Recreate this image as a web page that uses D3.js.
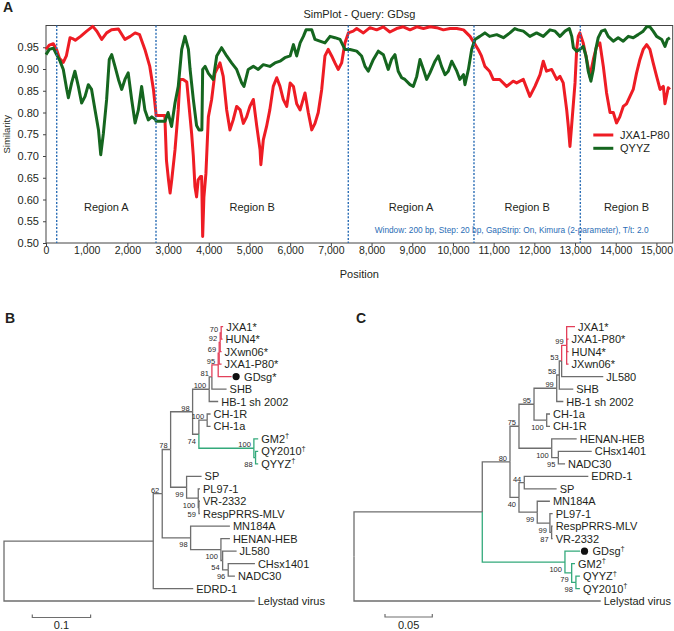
<!DOCTYPE html>
<html><head><meta charset="utf-8">
<script src="https://cdn.jsdelivr.net/npm/d3@7"></script>
<style>
html,body{margin:0;padding:0;background:#fff;}
svg{display:block;font-family:"Liberation Sans",Arial,sans-serif;}
</style></head>
<body>
<svg id="fig" width="674" height="631"></svg>
<script>
// ---------- Panel A data ----------
const xTicks = [0,1000,2000,3000,4000,5000,6000,7000,8000,9000,10000,11000,12000,13000,14000,15000];
const yTicks = [0.50,0.55,0.60,0.65,0.70,0.75,0.80,0.85,0.90,0.95];
const seriesNames = ["JXA1-P80","QYYZ"];
const breakpoints = [263, 2703, 7428, 10517, 13130];
const regionNames = ["Region A","Region B","Region A","Region B","Region B"];
const seqEnd = 15400;
const noteText = "Window: 200 bp, Step: 20 bp, GapStrip: On, Kimura (2-parameter), T/t: 2.0";

const jxa1P80 = [[0,0.945],[80,0.955],[180,0.958],[260,0.945],[330,0.925],[425,0.915],[500,0.93],[590,0.972],[650,0.97],[720,0.966],[850,0.975],[1000,0.987],[1150,0.998],[1250,0.987],[1370,0.968],[1490,0.983],[1610,0.99],[1780,0.992],[1860,0.98],[1940,0.968],[2070,0.975],[2190,0.983],[2300,0.979],[2430,0.945],[2550,0.906],[2640,0.853],[2700,0.80],[2705,0.793],[2920,0.793],[2960,0.69],[3010,0.645],[3050,0.615],[3090,0.645],[3170,0.714],[3250,0.806],[3290,0.876],[3370,0.876],[3460,0.87],[3540,0.79],[3580,0.75],[3620,0.70],[3660,0.63],[3700,0.606],[3740,0.645],[3800,0.653],[3825,0.653],[3850,0.515],[3880,0.605],[3930,0.66],[3990,0.79],[4070,0.83],[4150,0.89],[4275,0.914],[4355,0.883],[4440,0.806],[4520,0.76],[4600,0.783],[4685,0.814],[4770,0.806],[4850,0.775],[4930,0.79],[5010,0.814],[5095,0.83],[5180,0.768],[5260,0.714],[5280,0.68],[5340,0.737],[5420,0.768],[5500,0.806],[5585,0.86],[5670,0.88],[5750,0.86],[5830,0.83],[5915,0.814],[6000,0.868],[6080,0.86],[6160,0.82],[6245,0.806],[6365,0.845],[6445,0.80],[6530,0.76],[6610,0.775],[6690,0.80],[6775,0.853],[6855,0.93],[6935,0.945],[7020,0.93],[7100,0.914],[7180,0.899],[7265,0.914],[7345,0.96],[7430,0.983],[7550,0.987],[7635,0.993],[7800,0.983],[7960,0.995],[8125,0.99],[8290,0.997],[8450,0.985],[8615,0.993],[8780,0.997],[8945,0.99],[9110,0.997],[9275,0.993],[9440,0.997],[9600,0.995],[9765,0.99],[9930,0.993],[10095,0.993],[10260,0.99],[10420,0.975],[10520,0.96],[10620,0.945],[10700,0.93],[10785,0.906],[10900,0.895],[10990,0.876],[11150,0.876],[11320,0.86],[11480,0.872],[11565,0.868],[11730,0.876],[11890,0.837],[12015,0.86],[12140,0.887],[12220,0.918],[12300,0.895],[12425,0.899],[12550,0.876],[12630,0.883],[12710,0.868],[12795,0.806],[12835,0.768],[12875,0.722],[12915,0.768],[13000,0.868],[13040,0.945],[13080,0.975],[13120,0.983],[13200,0.96],[13285,0.922],[13365,0.883],[13450,0.922],[13530,0.952],[13610,0.96],[13695,0.906],[13775,0.845],[13860,0.80],[13940,0.80],[14020,0.776],[14100,0.79],[14185,0.814],[14265,0.82],[14350,0.837],[14430,0.853],[14510,0.89],[14595,0.922],[14675,0.945],[14760,0.956],[14840,0.945],[14920,0.914],[15005,0.883],[15090,0.853],[15170,0.86],[15210,0.82],[15290,0.857],[15330,0.853]];

const qyyz = [[0,0.933],[80,0.945],[180,0.948],[260,0.933],[345,0.918],[425,0.899],[510,0.853],[550,0.834],[630,0.868],[710,0.895],[795,0.86],[875,0.822],[960,0.837],[1040,0.864],[1120,0.853],[1205,0.806],[1290,0.76],[1345,0.703],[1410,0.752],[1490,0.83],[1555,0.922],[1615,0.933],[1695,0.906],[1780,0.876],[1860,0.853],[1940,0.876],[2020,0.891],[2105,0.83],[2190,0.776],[2270,0.806],[2350,0.86],[2430,0.806],[2515,0.783],[2600,0.79],[2700,0.783],[2705,0.78],[2925,0.78],[3000,0.80],[3085,0.768],[3170,0.822],[3250,0.86],[3335,0.945],[3415,0.975],[3500,0.945],[3540,0.90],[3620,0.83],[3700,0.77],[3760,0.76],[3830,0.76],[3850,0.899],[3910,0.906],[3990,0.89],[4110,0.876],[4195,0.93],[4315,0.949],[4440,0.93],[4560,0.914],[4685,0.899],[4810,0.868],[4865,0.86],[4970,0.899],[5095,0.906],[5215,0.899],[5340,0.91],[5500,0.906],[5625,0.914],[5750,0.918],[5870,0.926],[6000,0.93],[6080,0.956],[6160,0.93],[6245,0.96],[6325,0.975],[6390,0.99],[6530,0.99],[6610,0.968],[6730,0.964],[6855,0.96],[6980,0.975],[7100,0.972],[7225,0.968],[7345,0.945],[7470,0.945],[7635,0.941],[7755,0.93],[7840,0.906],[7920,0.895],[8045,0.922],[8165,0.941],[8290,0.933],[8410,0.899],[8490,0.922],[8575,0.933],[8655,0.895],[8740,0.88],[8820,0.876],[8945,0.864],[9025,0.86],[9110,0.883],[9190,0.922],[9275,0.899],[9355,0.876],[9435,0.891],[9560,0.918],[9640,0.93],[9720,0.906],[9805,0.887],[9885,0.895],[9970,0.918],[10095,0.895],[10170,0.876],[10260,0.887],[10295,0.864],[10380,0.899],[10460,0.945],[10540,0.968],[10660,0.975],[10785,0.983],[10900,0.975],[11075,0.979],[11240,0.972],[11400,0.983],[11520,0.993],[11600,0.99],[11730,0.987],[11890,0.975],[12055,0.983],[12220,0.975],[12385,0.99],[12510,0.987],[12630,0.975],[12755,0.987],[12860,0.993],[12920,0.975],[12960,0.949],[13040,0.941],[13120,0.945],[13200,0.952],[13270,0.93],[13325,0.895],[13390,0.872],[13450,0.899],[13510,0.945],[13570,0.972],[13650,0.987],[13735,0.99],[13815,0.975],[13940,0.964],[14060,0.972],[14185,0.964],[14310,0.975],[14430,0.972],[14550,0.979],[14675,0.987],[14760,0.997],[14840,0.997],[14920,0.987],[15005,0.975],[15130,0.968],[15210,0.952],[15270,0.968],[15330,0.972]];

// ---------- Panel B / C tree data (branch lengths, bootstrap) ----------
const L = (name, len, extra) => Object.assign({name, len}, extra || {});
const I = (len, boot, children, extra) => Object.assign({len, boot, children}, extra || {});

const treeB = I(0, null, [
  I(0.256, null, [
    I(0.0154, 62, [
      I(0.0144, 78, [
        I(0.0377, 98, [
          I(0.0285, 100, [
            I(0.0046, 81, [
              I(0.0108, 95, [
                I(0.0017, 69, [
                  I(0.0017, 92, [
                    I(0.0017, 70, [L("JXA1*", 0.0034), L("HUN4*", 0.0024)]),
                    L("JXwn06*", 0.0024)]),
                  L("JXA1-P80*", 0.0041)]),
                L("GDsg*", 0.023, {dot: true})], {clade: "red"}),
              L("SHB", 0.0252)]),
            L("HB-1 sh 2002", 0.0154)]),
          I(0.0108, 74, [
            I(0.0142, 100, [L("CH-1R", 0.0058), L("CH-1a", 0.0058)]),
            I(0.0943, 100, [
              L("GM2†", 0.0074),
              I(0.0029, 88, [L("QY2010†", 0.0045), L("QYYZ†", 0.0045)])], {clade: "green", up: true})])]),
        I(0.0274, 99, [
          L("SP", 0.0257),
          I(0.02, 100, [
            L("PL97-1", 0.003),
            I(0.0012, 59, [L("VR-2332", 0.0017), L("RespPRRS-MLV", 0.0017)])])])]),
      I(0.0487, 98, [
        L("MN184A", 0.0674),
        I(0.052, 100, [
          L("HENAN-HEB", 0.0154),
          I(0.0029, 54, [
            L("JL580", 0.024),
            I(0.0096, 96, [L("CHsx1401", 0.0458), L("NADC30", 0.0115)])])])])]),
    L("EDRD-1", 0.0686)]),
  L("Lelystad virus", 0.43)]);

const treeC = I(0, null, [
  I(0.1356, null, [
    I(0.0293, 80, [
      I(0.0095, 75, [
        I(0.0159, 95, [
          I(0.024, 99, [
            I(0.0027, 58, [
              I(0.0025, 53, [
                I(0.0053, 99, [L("JXA1*", 0.0088), L("JXA1-P80*", 0.002), L("HUN4*", 0.002), L("JXwn06*", 0.002)], {clade: "red"}),
                L("JL580", 0.044)]),
              L("SHB", 0.0148)]),
            L("HB-1 sh 2002", 0.007)]),
          I(0.0134, 100, [L("CH-1a", 0.0035), L("CH-1R", 0.0035)])]),
        I(0.0346, 100, [
          L("HENAN-HEB", 0.0264),
          I(0.007, 95, [L("CHsx1401", 0.0353), L("NADC30", 0.0071)])])]),
      I(0.0095, 40, [
        I(0.0056, 44, [L("EDRD-1", 0.0677), L("SP", 0.0342)]),
        I(0.0193, 99, [
          L("MN184A", 0.0134),
          I(0.0134, 99, [
            L("PL97-1", 0.0029),
            I(0.0018, 87, [L("RespPRRS-MLV", 0.0011), L("VR-2332", 0.0011)])])])])]),
    I(0.0874, 100, [
      L("GDsg†", 0.0159, {dot: true}),
      I(0.0071, 79, [L("GM2†", 0.0035), I(0.0045, 98, [L("QYYZ†", 0.0042), L("QY2010†", 0.0042)])])], {clade: "green"})]),
  L("Lelystad virus", 0.2608)]);

const scaleBarB = 0.1, scaleBarC = 0.05;

// ---------- drawing ----------
const svg = d3.select("#fig");
const FONT = '"Liberation Sans",Arial,sans-serif';
const RED = "#ee1c24", GREEN = "#15661f";
const TRED = "#e3405a", TGREEN = "#33a97b", TGRAY = "#6e6e6e";
const TXT = "#231f20";

// Panel letters
[["A",3,12],["B",5,323],["C",356,323]].forEach(([t,px,py]) =>
  svg.append("text").attr("x",px).attr("y",py).attr("font-size",14).attr("font-weight","bold").attr("fill",TXT).text(t));

// ----- Panel A -----
const x = d3.scaleLinear().domain([0, seqEnd]).range([46, 672.7]);
const y = d3.scaleLinear().domain([0.5, 1.0]).range([243, 25.5]);
const gA = svg.append("g");

gA.append("text").attr("x",(x.range()[0]+x.range()[1])/2).attr("y",18).attr("text-anchor","middle")
  .attr("font-size",11).attr("fill",TXT).text("SimPlot - Query: GDsg");

const xAxis = gA.append("g").attr("transform",`translate(0,${y(0.5)})`)
  .call(d3.axisBottom(x).tickValues(xTicks).tickFormat(d3.format(",")).tickSize(3).tickPadding(1));
xAxis.select(".domain").remove();
xAxis.selectAll("text").attr("font-size",10.5).attr("font-family",FONT).attr("fill",TXT);
xAxis.selectAll("line").attr("stroke","#444");

const yAxis = gA.append("g").attr("transform",`translate(${x(0)},0)`)
  .call(d3.axisLeft(y).tickValues(yTicks).tickFormat(d3.format(".2f")).tickSize(3).tickPadding(4));
yAxis.select(".domain").remove();
yAxis.selectAll("text").attr("font-size",11).attr("font-family",FONT).attr("fill",TXT);
yAxis.selectAll("line").attr("stroke","#444");

gA.append("rect").attr("x",x(0)).attr("y",y(1)).attr("width",x(seqEnd)-x(0)).attr("height",y(0.5)-y(1))
  .attr("fill","none").attr("stroke","#444").attr("stroke-width",1);

gA.append("text").attr("x",(x.range()[0]+x.range()[1])/2).attr("y",278).attr("text-anchor","middle")
  .attr("font-size",11).attr("fill",TXT).text("Position");
gA.append("text").attr("transform",`translate(9.5,${(y(0.5)+y(1))/2}) rotate(-90)`).attr("text-anchor","middle")
  .attr("font-size",9.5).attr("fill",TXT).text("Similarity");

const line = d3.line().x(d => x(d[0])).y(d => y(d[1]));
[[jxa1P80, RED],[qyyz, GREEN]].forEach(([data,col]) =>
  gA.append("path").datum(data).attr("d",line).attr("fill","none").attr("stroke",col)
    .attr("stroke-width",3).attr("stroke-linejoin","round"));

breakpoints.forEach(b => gA.append("line").attr("x1",x(b)).attr("x2",x(b)).attr("y1",y(1)).attr("y2",y(0.5))
  .attr("stroke","#2a6db5").attr("stroke-width",1.4).attr("stroke-dasharray","2,1.6"));

const bounds = breakpoints.concat([seqEnd]);
regionNames.forEach((r,i) => gA.append("text").attr("x",x((bounds[i]+bounds[i+1])/2)).attr("y",211)
  .attr("text-anchor","middle").attr("font-size",11).attr("fill",TXT).text(r));

gA.append("text").attr("x",648.5).attr("y",233).attr("text-anchor","end").attr("font-size",8.3)
  .attr("fill","#2a6db5").text(noteText);

[[seriesNames[0],RED,135],[seriesNames[1],GREEN,148.3]].forEach(([n,c,ly]) => {
  gA.append("line").attr("x1",593.3).attr("x2",613.3).attr("y1",ly).attr("y2",ly).attr("stroke",c).attr("stroke-width",3);
  gA.append("text").attr("x",620).attr("y",ly+4).attr("font-size",11).attr("fill",TXT).text(n);
});

// ----- Trees -----
function drawTree(data, x0, pxPerUnit, yTop, yBot, barLen, barX, barY) {
  const g = svg.append("g");
  const root = d3.hierarchy(data);
  const leaves = root.leaves();
  const xs = d3.scaleLinear().domain([0,1]).range([x0, x0 + pxPerUnit]);
  const ys = d3.scaleLinear().domain([0, leaves.length - 1]).range([yTop, yBot]);
  root.eachBefore(n => {
    n.dist = (n.parent ? n.parent.dist : 0) + (n.data.len || 0);
    n.px = xs(n.dist);
    n.clade = n.data.clade || (n.parent ? n.parent.clade : null);
  });
  leaves.forEach((l,i) => l.py = ys(i));
  root.eachAfter(n => { if (n.children) n.py = (n.children[0].py + n.children[n.children.length-1].py)/2; });

  const colOf = c => c === "red" ? TRED : c === "green" ? TGREEN : TGRAY;
  const nodes = root.descendants().filter(n => n.parent);
  nodes.sort((a,b) => (a.clade ? 1 : 0) - (b.clade ? 1 : 0));
  nodes.forEach(n => {
    g.append("path").attr("d",`M${n.parent.px},${n.parent.py}V${n.py}H${n.px}`)
      .attr("fill","none").attr("stroke",colOf(n.clade)).attr("stroke-width",1.3);
  });
  root.descendants().forEach(n => {
    if (n.data.boot == null || !n.parent) return;
    const sib = n.parent.children;
    const below = !n.data.up && sib.indexOf(n) === sib.length - 1 && sib.length > 1;
    g.append("text").attr("x",n.px - 3).attr("y", below ? n.py + 9.5 : n.py - 1)
      .attr("text-anchor","end").attr("font-size",7.5).attr("fill","#2a2a2a").text(n.data.boot);
  });
  leaves.forEach(l => {
    let lx = l.px + 3;
    if (l.data.dot) {
      g.append("circle").attr("cx",l.px + 4.5).attr("cy",l.py).attr("r",3.6).attr("fill","#111");
      lx = l.px + 12.5;
    }
    const t = g.append("text").attr("x",lx).attr("y",l.py + 4).attr("font-size",11).attr("fill",TXT);
    const nm = l.data.name;
    if (nm.endsWith("†")) {
      t.append("tspan").text(nm.slice(0,-1));
      t.append("tspan").attr("font-size",7.5).attr("dy",-4.5).text("†");
    } else t.text(nm);
  });
  const bx1 = barX, bx2 = barX + (xs(barLen) - xs(0));
  g.append("path").attr("d",`M${bx1},${barY-3}V${barY}H${bx2}V${barY-3}`).attr("fill","none")
    .attr("stroke",TGRAY).attr("stroke-width",1.2);
  g.append("text").attr("x",(bx1+bx2)/2).attr("y",barY+11.5).attr("text-anchor","middle")
    .attr("font-size",11).attr("fill",TXT).text(barLen);
}

drawTree(treeB, 4, 583, 326.7, 601, scaleBarB, 32.3, 617.5);
drawTree(treeC, 354, 946, 326.7, 601, scaleBarC, 385, 617);
</script>
</body></html>
